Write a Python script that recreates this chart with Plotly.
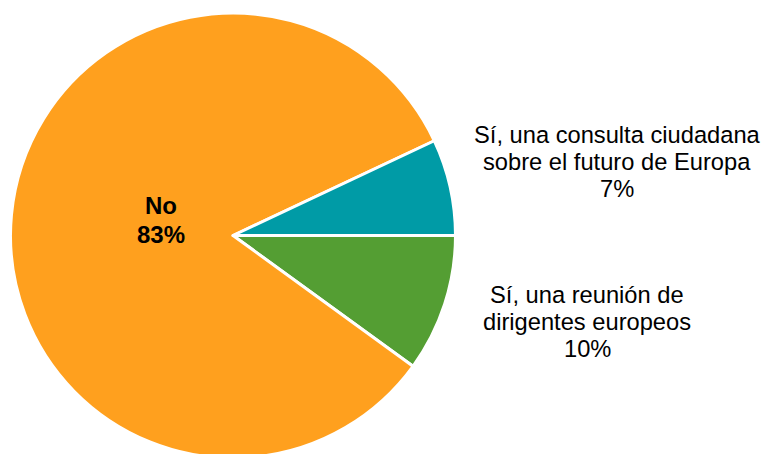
import plotly.graph_objects as go

labels = ["Sí, una reunión de<br>dirigentes europeos", "No", "Sí, una consulta ciudadana<br>sobre el futuro de Europa"]
values = [10, 83, 7]
colors = ["#549E33", "#FFA01E", "#009BA6"]

FONT = "Liberation Sans, Arial, sans-serif"

W, H, T = 766, 458, 13

fig = go.Figure(go.Pie(
    labels=labels,
    values=values,
    sort=False,
    direction="clockwise",
    rotation=90,
    marker=dict(colors=colors, line=dict(color="white", width=3)),
    textposition="none",
    domain=dict(x=[0, 466 / W], y=[0, 1]),
    showlegend=False,
    hoverinfo="label+percent",
))

def px2paper(px, py):
    return px / W, (H - py) / (H - T)

# label blocks: centre x, first-line centre y, line step, font size, bold
blocks = {
    2: (617, 134.5, 27, 23.7, False),
    0: (587, 294.5, 27, 23.7, False),
    1: (161, 205.5, 29, 24, True),
}
for i, (cx, y0, step, size, bold) in blocks.items():
    lines = labels[i].split("<br>") + [f"{values[i]}%"]
    for k, line in enumerate(lines):
        ax, ay = px2paper(cx, y0 + k * step)
        fig.add_annotation(
            x=ax, y=ay, xref="paper", yref="paper",
            text=f"<b>{line}</b>" if bold else line,
            showarrow=False, xanchor="center", yanchor="middle", align="center",
            font=dict(family=FONT, size=size, color="black"),
        )

fig.update_layout(
    width=W, height=H,
    margin=dict(l=0, r=0, t=T, b=0),
    paper_bgcolor="white", plot_bgcolor="white",
    font=dict(family=FONT),
)

fig.write_html("out.html", config={"displayModeBar": False},
               post_script="document.body.style.margin='0';")
